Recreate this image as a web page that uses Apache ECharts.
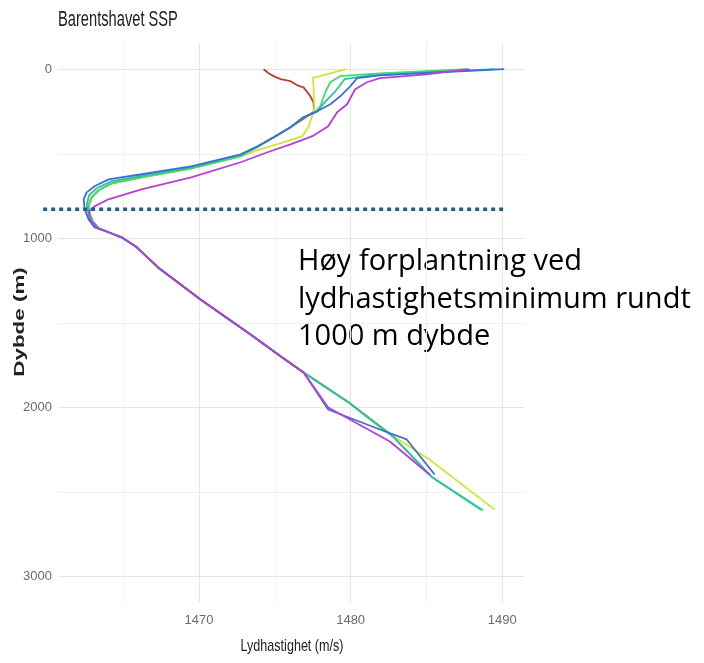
<!DOCTYPE html>
<html>
<head>
<meta charset="utf-8">
<script src="https://cdn.jsdelivr.net/npm/echarts@6/dist/echarts.min.js"></script>
<style>html,body{margin:0;padding:0;background:#fff}#c{width:704px;height:663px}</style>
</head>
<body>
<div id="c"></div>
<script>
// ---- data: [lydhastighet (m/s), dybde (m)] ----
const profileRed = [[1474.26,0],[1474.59,24],[1474.92,41],[1475.38,59],[1476.03,71],[1476.49,95],[1476.89,107],[1477.15,136],[1477.34,160],[1477.54,195],[1477.61,249],[1476.95,290],[1476.03,343],[1474.92,404],[1473.87,458],[1472.75,513],[1469.48,586],[1466.2,639],[1464.23,675],[1463.38,716],[1462.92,757],[1462.72,805],[1462.79,852],[1462.98,899],[1463.38,941],[1464.03,964],[1464.89,994],[1465.9,1053],[1467.3,1172],[1470.1,1361],[1473.4,1568],[1475.4,1698],[1476.9,1793],[1479.8,1964],[1482.8,2172]];
const profileYellow = [[1479.7,0],[1477.48,53],[1477.54,77],[1477.61,237],[1477.21,343],[1476.82,396],[1475.57,432],[1474.07,473],[1472.75,515],[1469.48,588],[1466.2,640],[1464.23,676],[1463.38,716],[1462.92,757],[1462.72,805],[1462.79,852],[1462.98,899],[1463.38,941],[1464.03,964],[1464.89,994],[1465.9,1053],[1467.3,1172],[1470.1,1361],[1473.4,1568],[1475.4,1698],[1476.9,1793],[1479.77,1964],[1481.93,2118],[1485.2,2308],[1489.5,2604]];
const profileGreen = [[1487.64,0],[1481.93,24],[1479.31,41],[1478.66,77],[1478.33,136],[1478.0,219],[1477.67,254],[1476.89,286],[1476.03,345],[1474.92,404],[1473.87,458],[1472.75,515],[1469.48,586],[1466.2,639],[1464.23,675],[1463.38,716],[1462.92,757],[1462.72,805],[1462.79,852],[1462.98,899],[1463.38,941],[1464.03,964],[1464.89,994],[1465.9,1053],[1467.3,1172],[1470.1,1361],[1473.4,1568],[1475.4,1698],[1476.9,1793],[1479.77,1964],[1482.8,2172],[1485.4,2414],[1488.75,2609]];
const profileCyan = [[1489.5,0],[1485.2,18],[1481.3,36],[1479.6,59],[1479.0,130],[1478.3,195],[1477.8,249],[1476.89,284],[1476.03,343],[1474.92,402],[1473.87,456],[1472.75,505],[1469.48,580],[1466.2,630],[1464.2,663],[1463.25,704],[1462.75,745],[1462.6,800],[1462.7,852],[1462.98,899],[1463.38,941],[1464.03,964],[1464.89,994],[1465.9,1053],[1467.3,1172],[1470.1,1361],[1473.4,1568],[1475.4,1698],[1476.9,1793],[1479.77,1964],[1482.8,2172],[1485.4,2414],[1488.6,2604]];
const profileBlue = [[1490.13,0],[1485.87,18],[1481.93,36],[1480.43,53],[1479.97,101],[1479.31,160],[1478.66,207],[1477.8,249],[1476.89,284],[1476.03,343],[1474.92,402],[1473.87,456],[1472.75,503],[1469.48,574],[1466.2,621],[1464.03,651],[1463.11,692],[1462.59,728],[1462.39,769],[1462.46,828],[1462.72,888],[1463.11,935],[1464.03,964],[1464.89,994],[1465.9,1053],[1467.3,1172],[1470.1,1361],[1473.4,1568],[1475.4,1698],[1476.9,1793],[1478.52,2012],[1481.93,2130],[1483.7,2189],[1485.54,2396]];
const profileMagenta = [[1487.84,0],[1485.0,30],[1481.93,53],[1481.08,77],[1480.3,118],[1479.77,207],[1479.11,254],[1478.52,337],[1477.48,396],[1476.03,444],[1474.52,491],[1472.75,550],[1469.48,639],[1466.2,710],[1464.03,769],[1463.11,811],[1462.72,840],[1462.79,888],[1463.25,935],[1464.03,964],[1464.89,994],[1465.9,1053],[1467.3,1172],[1470.1,1361],[1473.4,1568],[1475.4,1698],[1476.9,1793],[1478.52,2000],[1482.59,2201],[1485.2,2396]];
const minimumLine = [[1459.72,828],[1490.26,828]];
const xTickLabels = [1470, 1480, 1490];
const yTickLabels = [0, 1000, 2000, 3000];
const titleText = 'Barentshavet SSP';
const xTitle = 'Lydhastighet (m/s)';
const yTitle = 'Dybde (m)';
const noteText = 'Høy forplantning ved\nlydhastighetsminimum rundt\n1000 m dybde';

const profiles = [
  {data: profileRed, color: '#C23A30'},
  {data: profileYellow, color: '#D2E532'},
  {data: profileGreen, color: '#3EDC6C'},
  {data: profileCyan, color: '#2DC0A8'},
  {data: profileBlue, color: '#3C6FD6'},
  {data: profileMagenta, color: '#B63FD6'}
];

const sans = '"Liberation Sans", Arial, sans-serif';
const X_MIN = 1460.7, X_MAX = 1491.5, Y_MIN = -155, Y_MAX = 3150;
// second (hidden) grid, same scale, wider to the left so the dotted guide can start before the plot panel
const G_LEFT = 58, G_RIGHT = 179, G2_LEFT = 38;
const pxPerUnit = (704 - G_LEFT - G_RIGHT) / (X_MAX - X_MIN);
const X2_MIN = X_MIN - (G_LEFT - G2_LEFT) / pxPerUnit;

const chart = echarts.init(document.getElementById('c'), null, {renderer: 'canvas'});
const series = profiles.map(p => ({
  type: 'line', data: p.data, showSymbol: false, symbol: 'none', smooth: false,
  lineStyle: {color: p.color, width: 1.8}, itemStyle: {color: p.color}, silent: true
}));
series.push({
  type: 'line', xAxisIndex: 1, yAxisIndex: 1, data: minimumLine, showSymbol: false, symbol: 'none', clip: false, silent: true,
  lineStyle: {color: '#1E5F86', width: 3.5, type: [4, 4], cap: 'butt'}, z: 5
});

chart.setOption({
  animation: false,
  backgroundColor: '#ffffff',
  grid: [
    {left: G_LEFT, right: G_RIGHT, top: 43, bottom: 61, outerBoundsMode: 'none', containLabel: false},
    {left: G2_LEFT, right: G_RIGHT, top: 43, bottom: 61, outerBoundsMode: 'none', containLabel: false}
  ],
  xAxis: [{
    type: 'value', min: X_MIN, max: X_MAX, splitNumber: 5,
    axisLine: {show: false}, axisTick: {show: false},
    axisLabel: {formatter: v => xTickLabels.includes(Math.round(v * 1000) / 1000) ? String(v) : '', margin: 12, color: '#6b6b6b', fontSize: 13, fontFamily: sans},
    splitLine: {show: true, showMinLine: false, showMaxLine: false, lineStyle: {color: ['#f1f1f1', '#e6e6e6'], width: 1}}
  }, {
    type: 'value', gridIndex: 1, min: X2_MIN, max: X_MAX, show: false
  }],
  yAxis: [{
    type: 'value', inverse: true, min: Y_MIN, max: Y_MAX, splitNumber: 5,
    axisLine: {show: false}, axisTick: {show: false},
    axisLabel: {formatter: v => yTickLabels.includes(Math.round(v)) && Math.abs(v - Math.round(v)) < 1e-6 ? String(v) : '', margin: 6, color: '#6b6b6b', fontSize: 13, fontFamily: sans},
    splitLine: {show: true, showMinLine: false, showMaxLine: false, lineStyle: {color: ['#e6e6e6', '#f1f1f1'], width: 1}}
  }, {
    type: 'value', gridIndex: 1, inverse: true, min: Y_MIN, max: Y_MAX, show: false
  }],
  graphic: [
    {type: 'text', x: 58, y: 9, scaleX: 0.667, silent: true,
     style: {text: titleText, font: '22px ' + sans, fill: '#222', textVerticalAlign: 'top'}},
    {type: 'text', x: 292, y: 646, scaleX: 0.74, silent: true,
     style: {text: xTitle, font: '17px ' + sans, fill: '#222', textAlign: 'center', textVerticalAlign: 'middle'}},
    {type: 'text', x: 20, y: 322, rotation: Math.PI / 2, scaleX: 1.6, silent: true,
     style: {text: yTitle, font: 'bold 14px ' + sans, fill: '#222', textAlign: 'center', textVerticalAlign: 'middle'}},
    {type: 'text', x: 298, y: 243, silent: true,
     style: {text: noteText, font: '29px "Open Sans", "Noto Sans", sans-serif', fill: '#000', lineHeight: 37.5, textVerticalAlign: 'top'}}
  ],
  series: series
});
</script>
</body>
</html>
